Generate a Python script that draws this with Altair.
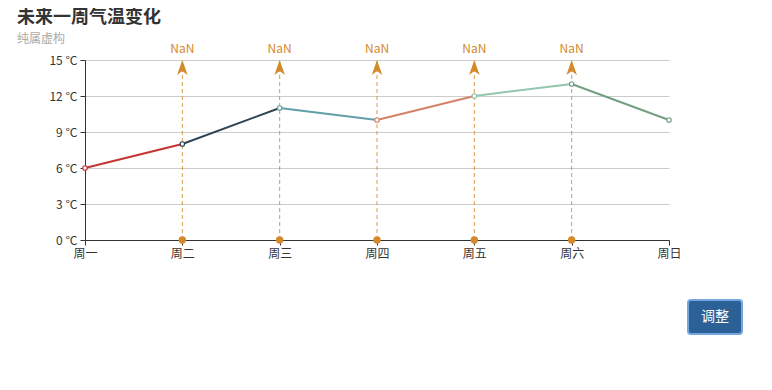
import altair as alt
import pandas as pd

# ---- data ----
days = ["周一", "周二", "周三", "周四", "周五", "周六", "周日"]
temps = [6, 8, 11, 10, 12, 13, 10]
point_colors = ["#c23531", "#2f4554", "#61a0a8", "#d48265", "#91c7ae", "#749f83", "#749f83"]
mark_days = ["周二", "周三", "周四", "周五", "周六"]
mark_labels = ["NaN", "NaN", "NaN", "NaN", "NaN"]
mark_bottom = [0, 0, 0, 0, 0]
mark_top = [15, 15, 15, 15, 15]
y_ticks = [0, 3, 6, 9, 12, 15]

title_text = "未来一周气温变化"
subtitle_text = "纯属虚构"
button_text = "调整"

FONT = "Noto Sans CJK SC"
ORANGE = "#d4892a"
AXIS = "#333333"

pts = pd.DataFrame({"day": days, "temp": temps, "color": point_colors})
seg_rows = []
for i in range(len(days) - 1):
    seg_rows.append({"seg": i, "day": days[i], "temp": temps[i], "color": point_colors[i]})
    seg_rows.append({"seg": i, "day": days[i + 1], "temp": temps[i + 1], "color": point_colors[i]})
segs = pd.DataFrame(seg_rows)
marks = pd.DataFrame({"day": mark_days, "lo": mark_bottom, "hi": mark_top, "label": mark_labels})

xscale = alt.Scale(type="point", domain=days, padding=0)
yscale = alt.Scale(domain=[0, 15], nice=False, zero=True)

x_axis = alt.Axis(title=None, labelAngle=0, grid=False, domainColor=AXIS,
                  tickColor=AXIS, tickSize=5, labelColor=AXIS, labelFontSize=12,
                  labelPadding=3, labelFont=FONT, labelOverlap=False)
y_axis = alt.Axis(title=None, values=y_ticks, labelExpr="datum.value + ' °C'",
                  grid=True, gridColor="#cccccc", domainColor=AXIS, tickColor=AXIS,
                  tickSize=5, labelColor=AXIS, labelFontSize=12, labelPadding=3,
                  labelFont=FONT, labelOverlap=False)


def X():
    return alt.X("day:N", scale=xscale, sort=days, axis=x_axis)


def Y(field):
    return alt.Y(field, scale=yscale, axis=y_axis)


lines = alt.Chart(segs).mark_line(strokeWidth=2).encode(
    x=X(), y=Y("temp:Q"), detail="seg:N", color=alt.Color("color:N", scale=None)
)

points = alt.Chart(pts).mark_point(shape="circle", filled=False, fill="white", fillOpacity=1,
                                   opacity=1, size=20, strokeWidth=1.2).encode(
    x=X(), y=Y("temp:Q"),
    stroke=alt.Color("color:N", scale=None),
)

rules = alt.Chart(marks).mark_rule(color=ORANGE, strokeDash=[4, 3], strokeWidth=1, opacity=0.85).encode(
    x=X(), y=Y("lo:Q"), y2="hi:Q",
)

arrows = alt.Chart(marks).mark_point(shape="M0,-1L0.7,1L0,0.45L-0.7,1Z", filled=True, size=225,
                                     color=ORANGE, opacity=1, yOffset=7.5).encode(
    x=X(), y=Y("hi:Q"),
)

dots = alt.Chart(marks).mark_circle(size=55, color=ORANGE, opacity=1).encode(
    x=X(), y=Y("lo:Q"),
)

labels = alt.Chart(marks).mark_text(color=ORANGE, fontSize=12, font=FONT, dy=-11, baseline="middle").encode(
    x=X(), y=Y("hi:Q"), text="label:N",
)

title = alt.Chart(pd.DataFrame({"t": [title_text]})).mark_text(
    align="left", baseline="middle", fontSize=18, fontWeight="bold", color="#333333", font=FONT
).encode(x=alt.value(-68), y=alt.value(-42.5), text="t:N")

subtitle = alt.Chart(pd.DataFrame({"t": [subtitle_text]})).mark_text(
    align="left", baseline="middle", fontSize=12, color="#aaaaaa", font=FONT
).encode(x=alt.value(-68), y=alt.value(-21), text="t:N")

button = alt.Chart(pd.DataFrame({"t": [button_text]})).mark_rect(
    fill="#2b6196", stroke="#74a6e0", strokeWidth=2, cornerRadius=3
).encode(x=alt.value(603), x2=alt.value(657), y=alt.value(240), y2=alt.value(274))

button_text_mark = alt.Chart(pd.DataFrame({"t": [button_text]})).mark_text(
    align="center", baseline="middle", fontSize=14, color="white", font=FONT
).encode(x=alt.value(630), y=alt.value(257), text="t:N")

chart = alt.layer(
    lines, rules, arrows, dots, points, labels, title, subtitle, button, button_text_mark
).properties(
    width=584, height=180,
    padding={"left": 77, "top": 52, "right": 95, "bottom": 110},
    autosize=alt.AutoSizeParams(type="none"),
    background="white",
).configure_view(stroke=None)

chart.save("out.html", embed_options={"renderer": "svg", "actions": False})
